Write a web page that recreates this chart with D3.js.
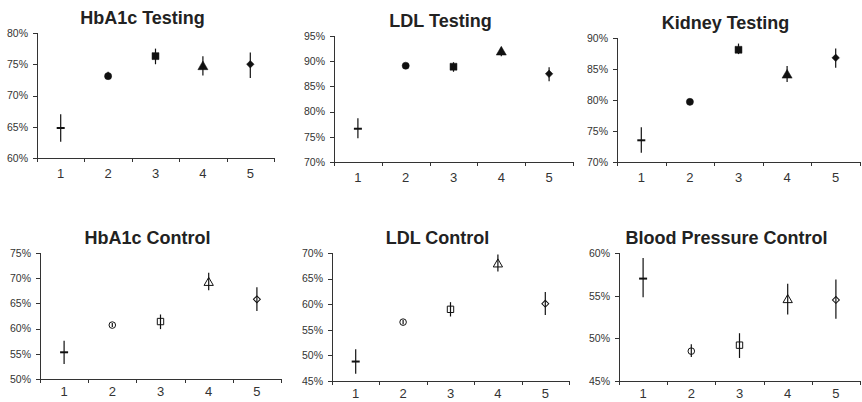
<!DOCTYPE html>
<html>
<head>
<meta charset="utf-8">
<script src="https://cdn.jsdelivr.net/npm/d3@7"></script>
<style>
  body { margin: 0; background: #fff; }
  .title { font-family: "Liberation Sans", Arial, sans-serif; font-weight: bold; font-size: 18px; fill: #222; }
  .axis text { font-family: "Liberation Sans", Arial, sans-serif; fill: #333; }
  .axis path, .axis line { stroke: #333; shape-rendering: crispEdges; }
</style>
</head>
<body>
<svg id="chart" width="862" height="402"></svg>
<script>
(function () {
  // category labels along the x axis of every panel
  var categories = [1, 2, 3, 4, 5];

  var titles = ["HbA1c Testing", "LDL Testing", "Kidney Testing",
                "HbA1c Control", "LDL Control", "Blood Pressure Control"];

  // y axis range for each panel (percent)
  var yDomains = [[60, 80], [70, 95], [70, 90], [50, 75], [45, 70], [45, 60]];

  // point estimates, lower and upper error bar ends (percent)
  var hba1cTestingMean = [64.8, 73.1, 76.3, 74.6, 75.0];
  var hba1cTestingLow  = [62.6, 72.8, 75.0, 73.2, 72.8];
  var hba1cTestingHigh = [67.0, 73.8, 77.5, 76.3, 76.9];

  var ldlTestingMean = [76.6, 89.1, 88.9, 91.8, 87.5];
  var ldlTestingLow  = [74.7, 88.8, 87.9, 91.0, 86.0];
  var ldlTestingHigh = [78.7, 89.4, 89.8, 92.7, 88.8];

  var kidneyTestingMean = [73.5, 79.7, 88.1, 84.0, 86.8];
  var kidneyTestingLow  = [71.5, 79.4, 87.4, 82.9, 85.2];
  var kidneyTestingHigh = [75.6, 80.0, 89.1, 85.5, 88.3];

  var hba1cControlMean = [55.3, 60.7, 61.4, 69.1, 65.8];
  var hba1cControlLow  = [53.0, 60.3, 59.9, 67.6, 63.5];
  var hba1cControlHigh = [57.6, 61.1, 62.8, 71.1, 68.2];

  var ldlControlMean = [48.8, 56.5, 59.0, 67.8, 60.1];
  var ldlControlLow  = [46.4, 56.1, 57.6, 66.4, 57.9];
  var ldlControlHigh = [51.2, 56.9, 60.4, 69.7, 62.4];

  var bpControlMean = [57.0, 48.5, 49.2, 54.5, 54.5];
  var bpControlLow  = [54.8, 47.8, 47.7, 52.8, 52.3];
  var bpControlHigh = [59.4, 49.3, 50.6, 56.4, 56.9];

  var means = [hba1cTestingMean, ldlTestingMean, kidneyTestingMean,
               hba1cControlMean, ldlControlMean, bpControlMean];
  var lows  = [hba1cTestingLow, ldlTestingLow, kidneyTestingLow,
               hba1cControlLow, ldlControlLow, bpControlLow];
  var highs = [hba1cTestingHigh, ldlTestingHigh, kidneyTestingHigh,
               hba1cControlHigh, ldlControlHigh, bpControlHigh];

  // plot rectangle of each panel (axis corner positions)
  var layout = [
    {left: 37,  right: 274, top: 33,  bottom: 158},
    {left: 334, right: 573, top: 36,  bottom: 162},
    {left: 617, right: 860, top: 38,  bottom: 162},
    {left: 40,  right: 281, top: 253, bottom: 379},
    {left: 332, right: 569, top: 253, bottom: 381},
    {left: 619, right: 860, top: 253, bottom: 381}
  ];

  var svg = d3.select("#chart");

  layout.forEach(function (box, p) {
    var filled = p < 3;
    var g = svg.append("g");

    var x = d3.scaleLinear().domain([0.5, 5.5]).range([box.left, box.right]);
    var y = d3.scaleLinear().domain(yDomains[p]).range([box.bottom, box.top]);

    // title
    g.append("text")
      .attr("class", "title")
      .attr("x", (box.left + box.right) / 2 - 13)
      .attr("y", box.top - 9)
      .attr("text-anchor", "middle")
      .text(titles[p]);

    // y axis
    var yTicks = d3.range(yDomains[p][0], yDomains[p][1] + 0.1, 5);
    g.append("g")
      .attr("class", "axis")
      .attr("transform", "translate(" + box.left + ",0)")
      .call(d3.axisLeft(y).tickValues(yTicks).tickSize(4).tickPadding(5)
        .tickFormat(function (d) { return d + "%"; }))
      .call(function (a) { a.select(".domain").attr("d", "M0," + box.top + "V" + box.bottom); })
      .selectAll("text").style("font-size", "10.5px");

    // x axis: ticks between categories, labels under the categories
    var xAxis = g.append("g")
      .attr("class", "axis")
      .attr("transform", "translate(0," + box.bottom + ")");
    xAxis.call(d3.axisBottom(x).tickValues(d3.range(0.5, 5.6, 1)).tickSize(4).tickFormat(""))
      .call(function (a) { a.select(".domain").attr("d", "M" + box.left + ",0H" + box.right); });
    xAxis.selectAll(".cat")
      .data(categories)
      .enter().append("text")
      .attr("class", "cat")
      .attr("x", function (d) { return x(d); })
      .attr("y", filled ? 20 : 17)
      .attr("text-anchor", "middle")
      .style("font-size", "13px")
      .text(function (d) { return d; });

    var pts = categories.map(function (c, i) {
      return {c: c, i: i, m: means[p][i], lo: lows[p][i], hi: highs[p][i]};
    });

    // markers
    var shapes = [null, d3.symbolCircle, d3.symbolSquare, d3.symbolTriangle, d3.symbolSquare];
    var sizes = [0, 40, 48, 44, 28];
    pts.forEach(function (d) {
      var cx = x(d.c), cy = y(d.m);
      if (d.i === 0) {
        g.append("line")
          .attr("x1", cx - 4).attr("x2", cx + 4)
          .attr("y1", cy).attr("y2", cy)
          .attr("stroke", "#111").attr("stroke-width", 2);
        return;
      }
      var sz = filled ? sizes[d.i] : sizes[d.i] * 0.85;
      g.append("path")
        .attr("d", d3.symbol().type(shapes[d.i]).size(sz)())
        .attr("transform", "translate(" + cx + "," + cy + ")" + (d.i === 4 ? " rotate(45)" : ""))
        .attr("fill", filled ? "#111" : "none")
        .attr("stroke", "#111")
        .attr("stroke-width", filled ? 0.5 : 1);
    });

    // error bars
    g.selectAll(".err")
      .data(pts)
      .enter().append("line")
      .attr("class", "err")
      .attr("x1", function (d) { return x(d.c); })
      .attr("x2", function (d) { return x(d.c); })
      .attr("y1", function (d) { return y(d.lo); })
      .attr("y2", function (d) { return y(d.hi); })
      .attr("stroke", "#111")
      .attr("stroke-width", 1.2);
  });
}());
</script>
</body>
</html>
